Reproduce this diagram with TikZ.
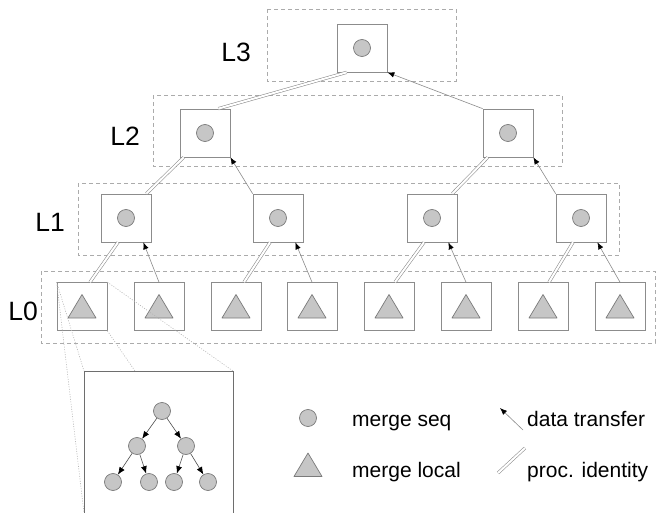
\documentclass[tikz,border=0pt]{standalone}
\usepackage{fontspec}
\setmainfont{Liberation Sans}
\usetikzlibrary{arrows.meta,calc}
\definecolor{boxgray}{HTML}{8C8C8C}
\definecolor{dashgray}{HTML}{ABABAB}
\definecolor{fillgray}{HTML}{C6C6C6}
\definecolor{markgray}{HTML}{7A7A7A}
\definecolor{linegray}{HTML}{8A8A8A}
\definecolor{dotgray}{HTML}{B4B4B4}
\definecolor{insetgray}{HTML}{6E6E6E}
\tikzset{
  procbox/.style={draw=boxgray, line width=0.7pt, minimum width=50pt, minimum height=48pt, inner sep=0pt},
  seqmark/.style={path picture={\filldraw[fill=fillgray, draw=markgray, line width=0.7pt]
      (path picture bounding box.center) circle[radius=8.5pt];}},
  locmark/.style={path picture={\filldraw[fill=fillgray, draw=markgray, line width=0.7pt, line join=round]
      ([shift={(-14pt,-11.5pt)}]path picture bounding box.center) -- ++(28pt,0pt) -- ++(-14pt,23.5pt) -- cycle;}},
  levelbox/.style={draw=dashgray, line width=0.6pt, dash pattern=on 4pt off 3pt},
  lvl/.style={font=\fontsize{26.5}{30}\selectfont, inner sep=0pt},
  legtext/.style={font=\fontsize{21}{25}\selectfont, inner sep=0pt, anchor=base west},
  ident/.style={draw=linegray, line width=0.55pt, double=white, double distance=2pt},
  xfer/.style={draw=linegray, line width=0.6pt, -{Latex[color=black, length=7pt, width=5.5pt]}},
  treenode/.style={circle, draw=markgray, fill=fillgray, line width=0.7pt, minimum size=17pt, inner sep=0pt},
  treearrow/.style={draw=black!70, line width=0.6pt, -{Latex[color=black, length=7.5pt, width=6pt]}},
  zoomline/.style={draw=dotgray, line width=0.6pt, dash pattern=on 1pt off 1.5pt},
}
\begin{document}
\begin{tikzpicture}[x=1pt, y=-1pt]
\useasboundingbox (0,0) rectangle (656,513);

% level boxes
\draw[levelbox] (267,9) rectangle (456,81);
\draw[levelbox] (153,95) rectangle (562,166);
\draw[levelbox] (78,183) rectangle (619,255);
\draw[levelbox] (41,271) rectangle (655,343);

% level labels
\node[lvl, anchor=base east] (lab3) at (251,62) {L3};
\node[lvl, anchor=base east] (lab2) at (140,146) {L2};
\node[lvl, anchor=base east] (lab1) at (65,232) {L1};
\node[lvl, anchor=base east] (lab0) at (38,320) {L0};

% L3
\node[procbox, seqmark] (t) at (362,48) {};
% L2
\node[procbox, seqmark] (a) at (205,133) {};
\node[procbox, seqmark] (b) at (508,133) {};
% L1
\node[procbox, seqmark] (c1) at (126,218) {};
\node[procbox, seqmark] (c2) at (278,218) {};
\node[procbox, seqmark] (c3) at (432,218) {};
\node[procbox, seqmark] (c4) at (581,218) {};
% L0
\node[procbox, locmark] (d1) at (82,306.5) {};
\node[procbox, locmark] (d2) at (159,306.5) {};
\node[procbox, locmark] (d3) at (236,306.5) {};
\node[procbox, locmark] (d4) at (312,306.5) {};
\node[procbox, locmark] (d5) at (389,306.5) {};
\node[procbox, locmark] (d6) at (466,306.5) {};
\node[procbox, locmark] (d7) at (543,306.5) {};
\node[procbox, locmark] (d8) at (620,306.5) {};

% L2 -> L3
\draw[ident] ($(a.north east)+(-12pt,0pt)$) -- ($(t.south west)+(10pt,0pt)$);
\draw[xfer] (b.north west) -- (t.south east);
% L1 -> L2
\draw[ident] ($(c1.north east)+(-5pt,0pt)$) -- ($(a.south west)+(4pt,0pt)$);
\draw[xfer] (c2.north west) -- (a.south east);
\draw[ident] ($(c3.north east)+(-5pt,0pt)$) -- ($(b.south west)+(5pt,0pt)$);
\draw[xfer] (c4.north west) -- (b.south east);
% L0 -> L1
\draw[ident] ($(d1.north)+(8pt,0pt)$) -- ($(c1.south)+(-8pt,0pt)$);
\draw[xfer] (d2.north) -- ($(c1.south east)+(-8pt,0pt)$);
\draw[ident] ($(d3.north)+(8pt,0pt)$) -- ($(c2.south)+(-8pt,0pt)$);
\draw[xfer] (d4.north) -- ($(c2.south east)+(-8pt,0pt)$);
\draw[ident] ($(d5.north)+(6pt,0pt)$) -- ($(c3.south)+(-8pt,0pt)$);
\draw[xfer] (d6.north) -- ($(c3.south east)+(-9pt,0pt)$);
\draw[ident] ($(d7.north)+(6pt,0pt)$) -- ($(c4.south)+(-8pt,0pt)$);
\draw[xfer] (d8.north) -- ($(c4.south east)+(-9pt,0pt)$);

% inset
\coordinate (inTL) at (84,371);
\coordinate (inTR) at (233,371);
\coordinate (inBL) at (84,513);
\coordinate (inBR) at (233,513);
\coordinate (inM) at (135,371);
\draw[zoomline] (d1.north west) -- (inTL);
\draw[zoomline] (d1.north east) -- (inTR);
\draw[zoomline] (d1.south east) -- (inM);
\draw[zoomline] (d1.north west) -- (inBL);
\draw[draw=insetgray, line width=0.8pt] (inBL) -- (inTL) -- (inTR) -- (inBR);

\node[treenode] (r) at (162,411) {};
\node[treenode] (m1) at (137,446) {};
\node[treenode] (m2) at (186,446) {};
\node[treenode] (f1) at (113,482) {};
\node[treenode] (f2) at (149,482) {};
\node[treenode] (f3) at (174,482) {};
\node[treenode] (f4) at (208,482) {};
\draw[treearrow] (r) -- (m1);
\draw[treearrow] (r) -- (m2);
\draw[treearrow] (m1) -- (f1);
\draw[treearrow] (m1) -- (f2);
\draw[treearrow] (m2) -- (f3);
\draw[treearrow] (m2) -- (f4);

% legend
\node[minimum size=22pt, inner sep=0pt, seqmark] (legc) at (308,418) {};
\node[minimum size=34pt, inner sep=0pt, locmark] (legt) at (308,465) {};
\node[legtext] (tseq) at (352,426) {merge seq};
\node[legtext] (tloc) at (352,477) {merge local};
\coordinate (xa) at (523,430);
\coordinate (xb) at (500,408);
\draw[xfer] (xa) -- (xb);
\coordinate (ia) at (498,473);
\coordinate (ib) at (525,448);
\draw[ident] (ia) -- (ib);
\node[legtext] (txfer) at (527,426) {data transfer};
\node[legtext] (tident) at (527,477) {proc. identity};
\end{tikzpicture}
\end{document}
